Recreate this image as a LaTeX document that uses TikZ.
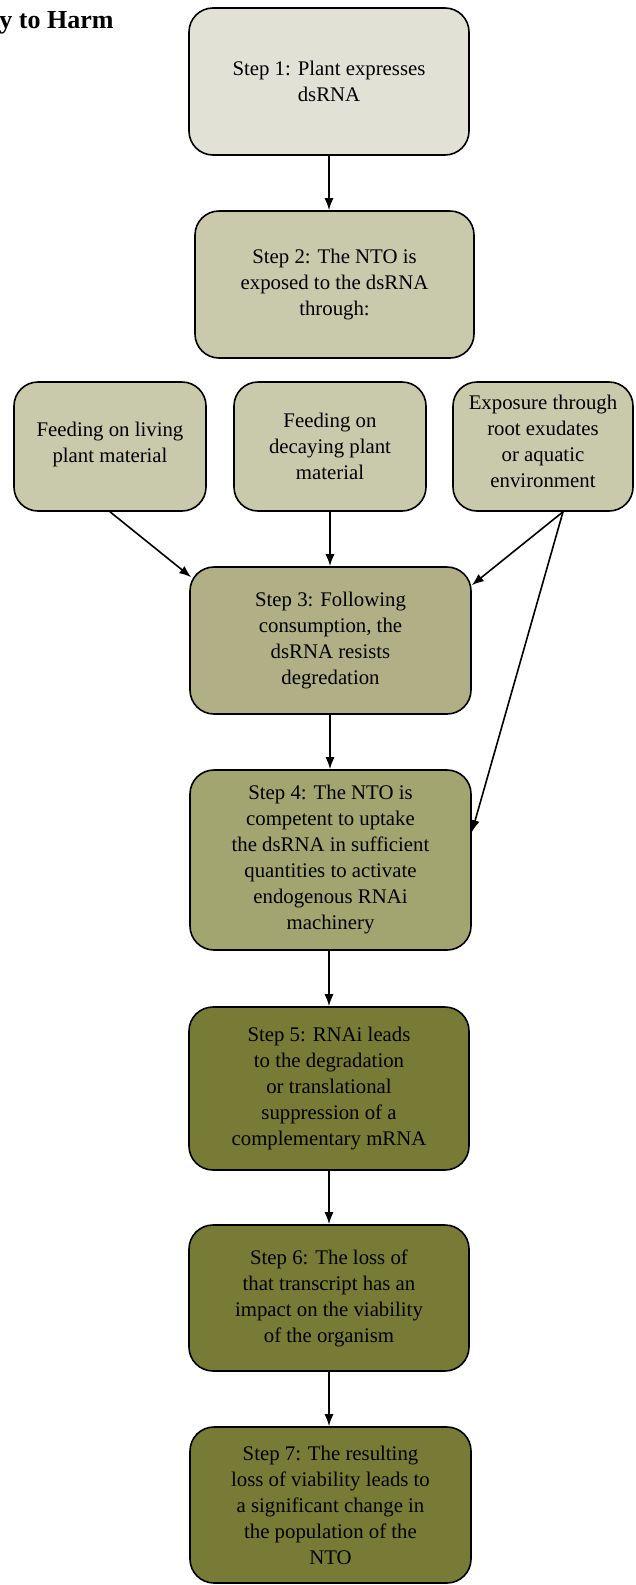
\documentclass[tikz,border=0pt]{standalone}
\usepackage{fontspec}
\setmainfont{Liberation Serif}
\usetikzlibrary{arrows.meta}
\definecolor{cA}{HTML}{E1E1D6}
\definecolor{cB}{HTML}{C9CAAB}
\definecolor{cC}{HTML}{B0AF85}
\definecolor{cD}{HTML}{A2A56F}
\definecolor{cE}{HTML}{787B36}
\tikzset{
  stepbox/.style={draw=black, line width=1.6pt, rounded corners=24pt, inner sep=0pt,
    align=center, font=\fontsize{20.8}{26}\selectfont, text=black},
  conn/.style={line width=1.6pt, -{Latex[length=12pt,width=9pt]}},
}
\begin{document}
\begin{tikzpicture}[x=1pt,y=-1pt]
\useasboundingbox (0,0) rectangle (635,1585);
\node[anchor=base east, font=\fontsize{26}{30}\bfseries\selectfont] (title) at (117,28) {y to Harm};
\node[stepbox, fill=cA, minimum width=280pt, minimum height=147pt] (s1) at (329,81.5) {Step 1: Plant expresses\\dsRNA};
\node[stepbox, fill=cB, minimum width=279pt, minimum height=147pt] (s2) at (334.5,284.5) {Step 2: The NTO is\\exposed to the dsRNA\\through:};
\node[stepbox, fill=cB, minimum width=192pt, minimum height=129pt] (l) at (110,446.5) {Feeding on living\\plant material\\[-18pt]};
\node[stepbox, fill=cB, minimum width=192pt, minimum height=129pt] (m) at (330,446.5) {Feeding on\\decaying plant\\material};
\node[stepbox, fill=cB, minimum width=180pt, minimum height=129pt] (r) at (543,446.5) {Exposure through\\root exudates\\or aquatic\\environment\\[-16pt]};
\node[stepbox, fill=cC, minimum width=281pt, minimum height=147pt] (s3) at (330.5,640.5) {Step 3: Following\\consumption, the\\dsRNA resists\\degredation};
\node[stepbox, fill=cD, minimum width=281pt, minimum height=180pt] (s4) at (330.5,860) {Step 4: The NTO is\\competent to uptake\\the dsRNA in sufficient\\quantities to activate\\endogenous RNAi\\machinery};
\node[stepbox, fill=cE, minimum width=280pt, minimum height=163pt] (s5) at (329,1088.5) {Step 5: RNAi leads\\to the degradation\\or translational\\suppression of a\\complementary mRNA};
\node[stepbox, fill=cE, minimum width=280pt, minimum height=146pt] (s6) at (329,1298) {Step 6: The loss of\\that transcript has an\\impact on the viability\\of the organism};
\node[stepbox, fill=cE, minimum width=281pt, minimum height=156pt] (s7) at (330.5,1505) {Step 7: The resulting\\loss of viability leads to\\a significant change in\\the population of the\\NTO};
\coordinate (rs) at ([xshift=20pt]r.south);
\draw[conn] (s1.south) -- (s1.south |- s2.north);
\draw[conn] (l.south) -- ([shift={(2,11)}]s3.north west);
\draw[conn] (m.south) -- (m.south |- s3.north);
\draw[conn] (rs) -- ([shift={(0,19)}]s3.north east);
\draw[conn] (rs) -- ([shift={(0,63)}]s4.north east);
\draw[conn] ([xshift=-0.5pt]s3.south) -- ([xshift=-0.5pt]s4.north);
\draw[conn] ([xshift=-1.5pt]s4.south) -- ([xshift=-1.5pt]s4.south |- s5.north);
\draw[conn] (s5.south) -- (s6.north);
\draw[conn] (s6.south) -- (s6.south |- s7.north);
\end{tikzpicture}
\end{document}
